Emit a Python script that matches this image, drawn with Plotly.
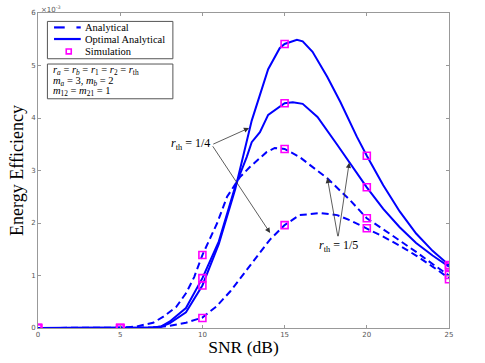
import plotly.graph_objects as go

# energy efficiency values in units of 1e-3
snr_opt_q = [0, 5, 6, 7, 7.5, 8, 9, 10, 11, 12, 13, 14, 14.7, 15, 15.75, 16.1, 16.7, 17.6, 18.4, 19.4, 20, 21, 22, 23, 24, 25]
ee_opt_q = [0, 0, 0, 0.01, 0.03, 0.09, 0.3, 0.81, 1.6, 2.65, 3.95, 4.93, 5.33, 5.41, 5.49, 5.46, 5.26, 4.78, 4.3, 3.64, 3.28, 2.72, 2.22, 1.8, 1.47, 1.2]

snr_opt_f = [0, 5, 6, 7, 7.5, 8, 9, 10, 11, 12, 12.7, 13, 13.5, 14, 15, 15.5, 16.1, 17, 18.2, 19, 20, 21, 22, 23, 24, 25]
ee_opt_f = [0, 0, 0, 0.01, 0.03, 0.12, 0.38, 0.95, 1.65, 2.7, 3.26, 3.54, 3.73, 4.06, 4.28, 4.3, 4.27, 4.02, 3.49, 3.14, 2.68, 2.27, 1.92, 1.62, 1.38, 1.17]

snr_ana_f = [0, 5, 6, 7, 7.6, 8.4, 9, 9.5, 10, 10.9, 11.5, 12.3, 12.9, 13.9, 14.4, 15, 15.9, 17.6, 19, 20, 21, 22, 23, 24, 25]
ee_ana_f = [0, 0, 0.03, 0.1, 0.21, 0.4, 0.66, 0.97, 1.39, 2.0, 2.5, 2.88, 3.07, 3.35, 3.43, 3.41, 3.26, 2.85, 2.43, 2.09, 1.88, 1.67, 1.45, 1.22, 1.0]

snr_ana_q = [0, 5, 6, 7, 8, 9, 10, 10.85, 11.7, 12.7, 13.5, 14.1, 15, 15.9, 17.2, 18.2, 19, 20, 21, 22, 23, 24, 25]
ee_ana_q = [0, 0, 0, 0.01, 0.04, 0.1, 0.2, 0.41, 0.7, 1.1, 1.43, 1.68, 1.96, 2.15, 2.19, 2.15, 2.05, 1.9, 1.74, 1.57, 1.38, 1.17, 0.95]

sim_snr = [0, 5, 10, 15, 20, 25]
sim_opt_q = [0, 0, 0.81, 5.41, 3.28, 1.2]
sim_opt_f = [0, 0, 0.95, 4.28, 2.68, 1.17]
sim_ana_f = [0, 0, 1.39, 3.41, 2.09, 1.01]
sim_ana_q = [0, 0, 0.19, 1.96, 1.90, 0.93]

legend_labels = ['Analytical', 'Optimal Analytical', 'Simulation']
param_lines = [
    '<i>r<sub>a</sub></i> = <i>r<sub>b</sub></i> = <i>r</i><sub>1</sub> = <i>r</i><sub>2</sub> = <i>r</i><sub>th</sub>',
    '<i>m<sub>a</sub></i> = 3, <i>m<sub>b</sub></i> = 2',
    '<i>m</i><sub>12</sub> = <i>m</i><sub>21</sub> = 1',
]

blue = '#0000ff'
magenta = '#ff00ff'
serif = 'Liberation Serif'
dash = '7px,4px'

fig = go.Figure()
fig.add_trace(go.Scatter(x=snr_ana_f, y=ee_ana_f, mode='lines', line=dict(color=blue, width=2, dash=dash)))
fig.add_trace(go.Scatter(x=snr_ana_q, y=ee_ana_q, mode='lines', line=dict(color=blue, width=2, dash=dash)))
fig.add_trace(go.Scatter(x=snr_opt_q, y=ee_opt_q, mode='lines', line=dict(color=blue, width=2)))
fig.add_trace(go.Scatter(x=snr_opt_f, y=ee_opt_f, mode='lines', line=dict(color=blue, width=2)))
for sim in [sim_opt_q, sim_opt_f, sim_ana_f, sim_ana_q]:
    fig.add_trace(go.Scatter(
        x=sim_snr, y=sim, mode='markers',
        marker=dict(symbol='square-open', color=magenta, size=7, line=dict(width=1.6))
    ))

# arrows for r_th labels (head x, head y, tail x, tail y)
arrows = [
    (12.84, 3.81, 10.57, 3.49),
    (14.12, 1.81, 10.57, 3.49),
    (17.6, 2.86, 18.25, 1.72),
    (18.93, 3.15, 18.25, 1.72),
]
for hx, hy, tx, ty in arrows:
    fig.add_annotation(x=hx, y=hy, ax=tx, ay=ty, xref='x', yref='y', axref='x', ayref='y',
                       text='', showarrow=True, arrowhead=2, arrowsize=1.3,
                       arrowwidth=0.8, arrowcolor='#333333')

fig.add_annotation(x=10.6, y=3.5, xref='x', yref='y', xanchor='right', showarrow=False,
                   text='<i>r</i><sub>th</sub> = 1/4', font=dict(family=serif, size=12, color='black'))
fig.add_annotation(x=18.25, y=1.56, xref='x', yref='y', xanchor='center', showarrow=False,
                   text='<i>r</i><sub>th</sub> = 1/5', font=dict(family=serif, size=12, color='black'))

# legend box drawn by hand (MATLAB style compact legend)
fig.add_shape(type='rect', xref='paper', yref='paper', x0=0.0229, x1=0.3282, y0=0.8548, y1=0.9733,
              line=dict(color='#555555', width=1), fillcolor='white', layer='above')
row_y = [0.9542, 0.9174, 0.878]
for seg in [(0.039, 0.065), (0.0935, 0.104)]:
    fig.add_shape(type='line', xref='paper', yref='paper', x0=seg[0], x1=seg[1], y0=row_y[0], y1=row_y[0],
                  line=dict(color=blue, width=2.2), layer='above')
fig.add_shape(type='line', xref='paper', yref='paper', x0=0.039, x1=0.104, y0=row_y[1], y1=row_y[1],
              line=dict(color=blue, width=2.2), layer='above')
fig.add_shape(type='rect', xref='paper', yref='paper', x0=0.0748 - 0.0061, x1=0.0748 + 0.0061,
              y0=row_y[2] - 0.0079, y1=row_y[2] + 0.0079, line=dict(color=magenta, width=1.6), layer='above')
for label, yy in zip(legend_labels, row_y):
    fig.add_annotation(x=0.109, y=yy, xref='paper', yref='paper', xanchor='left', yanchor='middle',
                       showarrow=False, text=label, font=dict(family=serif, size=10.5, color='black'))

# parameter box
fig.add_shape(type='rect', xref='paper', yref='paper', x0=0.0229, x1=0.3282, y0=0.7277, y1=0.838,
              line=dict(color='#555555', width=1), fillcolor='white', layer='above')
for line_text, yy in zip(param_lines, [0.8167, 0.7833, 0.75]):
    fig.add_annotation(x=0.031, y=yy, xref='paper', yref='paper', xanchor='left', yanchor='middle',
                       showarrow=False, text=line_text, font=dict(family=serif, size=10.5, color='black'))

fig.add_annotation(x=0.002, y=1.0, xref='paper', yref='paper', xanchor='left', yanchor='bottom',
                   showarrow=False, text='×10<sup>-3</sup>', yshift=-3,
                   font=dict(family='DejaVu Sans', size=7, color='#555555'))

fig.update_layout(
    width=485, height=363,
    margin=dict(l=38, r=36, t=13, b=35),
    plot_bgcolor='white', paper_bgcolor='white',
    font=dict(family=serif, size=14, color='black'),
    showlegend=False
)
axis_style = dict(
    showgrid=False, zeroline=False, showline=True, mirror='ticks', automargin=False,
    linecolor='#999999', linewidth=1, ticks='inside', ticklen=3,
    tickcolor='#999999', tickfont=dict(family='DejaVu Sans', size=7, color='#555555')
)
fig.update_xaxes(range=[0, 25], dtick=5, tick0=0,
                 title=dict(text='SNR (dB)', standoff=2, font=dict(size=17.5)), **axis_style)
fig.update_yaxes(range=[0, 6], dtick=1, tick0=0,
                 title=dict(text='Energy Efficiency', standoff=2, font=dict(size=18)), **axis_style)

fig.write_html("out.html", config={'displayModeBar': False},
               post_script="document.body.style.margin='0';")
